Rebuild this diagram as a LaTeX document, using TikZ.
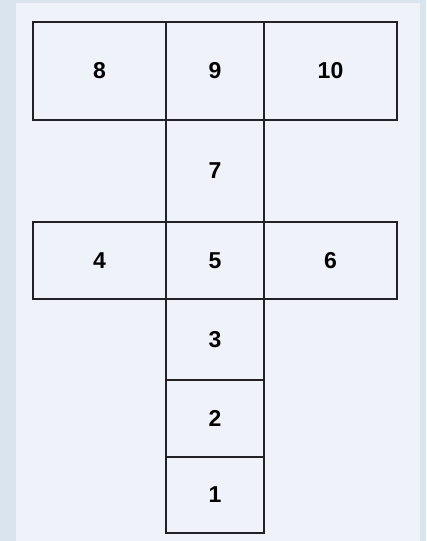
\documentclass[tikz,border=0pt]{standalone}
\usepackage{fontspec}
\setmainfont{Liberation Sans}
\definecolor{frame}{HTML}{DAE4EE}
\definecolor{paper}{HTML}{F0F2FA}
\definecolor{ink}{HTML}{222226}
\begin{document}
\begin{tikzpicture}[x=1pt,y=-1pt,
  cell/.style={draw=ink, line width=1.2pt, rectangle, inner sep=0pt,
    font=\fontsize{23}{26}\selectfont\bfseries, text=black}]
\fill[frame] (0,0) rectangle (426,541);
\useasboundingbox (0,0) rectangle (426,541);
\fill[paper] (16,3) rectangle (420,541);
\node[cell, minimum width=133pt, minimum height=98pt] (n8) at (99.5,71) {8};
\node[cell, minimum width=98pt, minimum height=98pt] (n9) at (215,71) {9};
\node[cell, minimum width=133pt, minimum height=98pt] (n10) at (330.5,71) {10};
\node[cell, minimum width=98pt, minimum height=102pt] (n7) at (215,171) {7};
\node[cell, minimum width=133pt, minimum height=77pt] (n4) at (99.5,260.5) {4};
\node[cell, minimum width=98pt, minimum height=77pt] (n5) at (215,260.5) {5};
\node[cell, minimum width=133pt, minimum height=77pt] (n6) at (330.5,260.5) {6};
\node[cell, minimum width=98pt, minimum height=81pt] (n3) at (215,339.5) {3};
\node[cell, minimum width=98pt, minimum height=77pt] (n2) at (215,418.5) {2};
\node[cell, minimum width=98pt, minimum height=76pt] (n1) at (215,495) {1};
\end{tikzpicture}
\end{document}
